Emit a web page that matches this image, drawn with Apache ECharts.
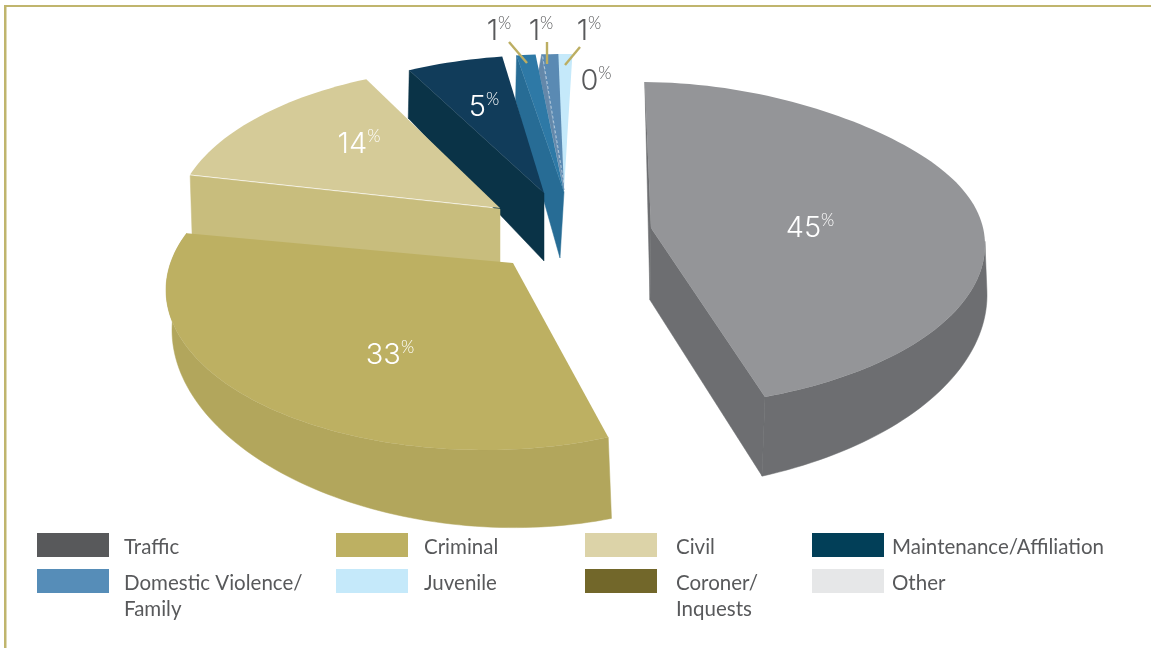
<!DOCTYPE html>
<html>
<head>
<meta charset="utf-8">
<title>Caseload by case type</title>
<style>html,body{margin:0;padding:0;background:#fff}#chart{width:1151px;height:648px}</style>
<script src="https://cdn.jsdelivr.net/npm/echarts@6/dist/echarts.min.js"></script>
</head>
<body>
<div id="chart"></div>
<script>
// Case types and their share of the caseload, in percent.
const categories = ['Traffic', 'Criminal', 'Civil', 'Maintenance/Affiliation',
  'Domestic Violence/Family', 'Juvenile', 'Coroner/Inquests', 'Other'];
const shares = [45, 33, 14, 5, 1, 1, 1, 0];
const legendLabels = ['Traffic', 'Criminal', 'Civil', 'Maintenance/Affiliation',
  'Domestic Violence/\nFamily', 'Juvenile', 'Coroner/\nInquests', 'Other'];
const swatchColors = ['#58595b', '#bdb062', '#dcd3a8', '#023f58', '#568db8', '#c5e9fa', '#72672a', '#e6e7e8'];

// Clockwise order of the slices around the pie, starting at twelve o'clock.
const sweepOrder = ['Traffic', 'Criminal', 'Civil', 'Maintenance/Affiliation',
  'Coroner/Inquests', 'Domestic Violence/Family', 'Juvenile', 'Other'];

// Per-slice projection of the exploded pie: each wedge has its own ellipse and apex.
// d = [d0, d1, d2] drives the wall height, bottom = [dx, drx] shifts the lower rim.
const wedges = {
  'Traffic': { cx: 640, cy: 245, rx: 345, ry: 163, rot: 0.8, stretch: 0.975, apex: [651, 228], sag: 5,
    top: '#949598', wall: '#6d6e71', d: [55, 28, -5], bottom: [-6, 8], arcFrom: 88,
    edges: [{ at: 'start', outer: [0, 0], inner: [-1, 72] }, { at: 'end', outer: [-3, 79], inner: [-1, 72] }],
    label: [170, -17], ink: '#fff', z: 7 },
  'Criminal': { cx: 484, cy: 290, rx: 318, ry: 160, rot: -5, stretch: 1.126, apex: [513, 263],
    top: '#bdb062', wall: '#b2a65c', d: [55, 22, 15], bottom: [4, -2], arcFrom: 0, edges: [],
    label: [-94, 65], ink: '#fff', z: 6 },
  'Civil': { cx: 495, cy: 222, rx: 320, ry: 156, rot: 6.9, stretch: 0.964, apex: [500, 208],
    top: '#d5cb98', wall: '#c8bd7d', d: [0, 0, 0], bottom: [0, 0],
    edges: [{ at: 'start', outer: [2, 62], inner: [0, 57], gap: 1 }],
    label: [-136, -78], ink: '#fff', z: 5 },
  'Maintenance/Affiliation': { cx: 547, cy: 211, rx: 320, ry: 156, rot: 3.3, stretch: 0.97, apex: [544, 193],
    top: '#113c5a', wall: '#0a3347', d: [0, 0, 0], bottom: [0, 0],
    edges: [{ at: 'start', outer: [-1, 48], inner: [0, 68] }],
    label: [-63, -104], ink: '#fff', z: 4 },
  'Coroner/Inquests': { cx: 560, cy: 207, rx: 320, ry: 153, rot: 3, stretch: 0.95, apex: [564, 192],
    top: '#2e79a6', wall: '#276c95', d: [0, 0, 0], bottom: [0, 0],
    edges: [{ at: 'start', outer: [-1, 45], inner: [-4, 66] }],
    label: [-61, -176], ink: '#58595b', leader: [[-51, -165], [-33, -144]], z: 3 },
  'Domestic Violence/Family': { cx: 564, cy: 207, rx: 320, ry: 153, rot: 3.2, stretch: 0.83, apex: [564, 190],
    top: '#5a8ab3', wall: '#6488aa', d: [0, 0, 0], bottom: [0, 0],
    edges: [{ at: 'start', outer: [-3, 16], inner: [0, 0] }], seam: '#c9d6e2',
    label: [-23, -176], ink: '#58595b', leader: [[-17, -165], [-17, -143]], z: 2 },
  'Juvenile': { cx: 564, cy: 207, rx: 320, ry: 153, rot: 2.3, stretch: 0.78, apex: [564, 190],
    top: '#c5e9fa', wall: '#c5e9fa', d: [0, 0, 0], bottom: [0, 0], edges: [],
    label: [25, -176], ink: '#58595b', leader: [[16, -160], [1, -142]], z: 1 },
  'Other': { cx: 564, cy: 207, rx: 320, ry: 153, rot: 0, stretch: 1, apex: [564, 190],
    top: '#e6e7e8', wall: '#e6e7e8', d: [0, 0, 0], bottom: [0, 0], edges: [],
    label: [32, -126], ink: '#58595b', z: 0 }
};

// Legend slots: swatch left edge, row top, gap before the text.
const legendSlots = [
  [37, 533, 10], [336, 533, 11], [585, 533, 14], [812, 533, 3],
  [37, 569, 10], [336, 569, 11], [585, 569, 14], [812, 569, 3]
];
const legendLine = 26;
const swatchHeight = 24;

const total = shares.reduce((a, b) => a + b, 0);
const shareOf = name => shares[categories.indexOf(name)];
const rad = deg => deg * Math.PI / 180;

// Cumulative start angle of a slice, in degrees clockwise from the top.
function startAngle(name) {
  let sum = 0;
  for (const other of sweepOrder) {
    if (other === name) break;
    sum += shareOf(other);
  }
  return 360 * sum / total;
}

function topPoint(w, theta) {
  const t = rad(theta);
  // The upper right of the rim runs a little flatter than a true ellipse.
  const sag = w.sag && theta < 90 ? w.sag * Math.pow(Math.sin(2 * t), 2) : 0;
  return [w.cx + w.rx * Math.sin(t), w.cy - w.ry * Math.cos(t) + sag];
}
function lowerPoint(w, theta) {
  const s = Math.sin(rad(theta)), c = Math.cos(rad(theta));
  const depth = w.d[0] - w.d[1] * c + w.d[2] * s;
  return [w.cx + w.bottom[0] + (w.rx + w.bottom[1]) * s, w.cy - w.ry * c + depth];
}

function renderWedge(name, value) {
  const w = wedges[name];
  const children = [];
  const a0 = startAngle(name) + w.rot;
  const a1 = a0 + 360 * value / total * w.stretch;
  const steps = Math.max(2, Math.ceil((a1 - a0) / 1.5));
  const angles = [];
  for (let i = 0; i <= steps; i++) angles.push(a0 + (a1 - a0) * i / steps);

  if (value > 0) {
    w.edges.forEach(e => {
      const rim = topPoint(w, e.at === 'start' ? a0 : a1);
      const gap = e.gap || 0;
      children.push({
        type: 'polygon',
        shape: { points: [
          [rim[0], rim[1] + gap], [w.apex[0], w.apex[1] + gap],
          [w.apex[0] + e.inner[0], w.apex[1] + e.inner[1]],
          [rim[0] + e.outer[0], rim[1] + e.outer[1]]
        ] },
        style: { fill: w.wall, stroke: w.wall, lineWidth: 0.5 }
      });
    });
    if (w.arcFrom !== undefined) {
      const front = angles.filter(t => t >= w.arcFrom);
      const upper = front.map(t => topPoint(w, t));
      const lower = front.map(t => lowerPoint(w, t)).reverse();
      children.push({
        type: 'polygon',
        shape: { points: upper.concat(lower) },
        style: { fill: w.wall, stroke: w.wall, lineWidth: 0.5 }
      });
    }
    children.push({
      type: 'polygon',
      shape: { points: [w.apex].concat(angles.map(t => topPoint(w, t))) },
      style: { fill: w.top }
    });
    if (w.seam) {
      const rim = topPoint(w, a0);
      children.push({
        type: 'line',
        shape: { x1: rim[0] + 1, y1: rim[1] + 2, x2: w.apex[0], y2: w.apex[1] - 6 },
        style: { stroke: w.seam, lineWidth: 0.8, lineDash: [3, 2] }
      });
    }
  }
  if (w.leader) {
    children.push({
      type: 'line',
      shape: {
        x1: w.cx + w.leader[0][0], y1: w.cy + w.leader[0][1],
        x2: w.cx + w.leader[1][0], y2: w.cy + w.leader[1][1]
      },
      style: { stroke: '#bcae62', lineWidth: 2.4 }
    });
  }
  children.push({
    type: 'text',
    x: w.cx + w.label[0],
    y: w.cy + w.label[1],
    style: {
      text: '{n|' + value + '}{p|%}',
      align: 'center',
      verticalAlign: 'middle',
      rich: {
        n: { fontFamily: 'Inter', fontWeight: 300, fontSize: 29, lineHeight: 32, fill: w.ink, color: w.ink },
        p: { fontFamily: 'Lato', fontWeight: 300, fontSize: 17, lineHeight: 24, verticalAlign: 'top', fill: w.ink, color: w.ink }
      }
    }
  });
  return { type: 'group', children };
}

const series = categories.map((name, i) => ({
  type: 'custom',
  name,
  coordinateSystem: 'none',
  z: 2 + wedges[name].z,
  silent: true,
  itemStyle: { color: swatchColors[i] },
  data: [[shares[i]]],
  renderItem: (params, api) => renderWedge(name, api.value(0))
}));

// The legend centres a label's block on its swatch. A spacer line above the text
// brings the first text line level with the swatch instead.
const legends = categories.map((name, i) => {
  const lines = legendLabels[i].split('\n').length;
  const spacer = lines > 1 ? 30 : 4;
  const blockHeight = spacer + lines * legendLine;
  return {
    data: [name],
    left: legendSlots[i][0],
    top: legendSlots[i][1] - (blockHeight - swatchHeight) / 2,
    orient: 'horizontal',
    padding: 0,
    icon: 'rect',
    itemWidth: 72,
    itemHeight: swatchHeight,
    selectedMode: false,
    formatter: () => '{s' + spacer + '| }\n' + legendLabels[i],
    textStyle: {
      fontFamily: 'Lato',
      fontSize: 20.5,
      lineHeight: legendLine,
      color: '#58595b',
      padding: [0, 0, 0, legendSlots[i][2]],
      rich: {
        s4: { fontSize: 1, lineHeight: 4 },
        s30: { fontSize: 1, lineHeight: 30 }
      }
    }
  };
});

const chart = echarts.init(document.getElementById('chart'), null, { renderer: 'canvas' });
chart.setOption({
  animation: false,
  backgroundColor: '#fff',
  graphic: [
    { type: 'rect', shape: { x: 4, y: 5, width: 1147, height: 2 }, style: { fill: '#c0b56d' }, silent: true },
    { type: 'rect', shape: { x: 4, y: 5, width: 2.5, height: 643 }, style: { fill: '#c0b56d' }, silent: true }
  ],
  legend: legends,
  series
});
</script>
</body>
</html>
